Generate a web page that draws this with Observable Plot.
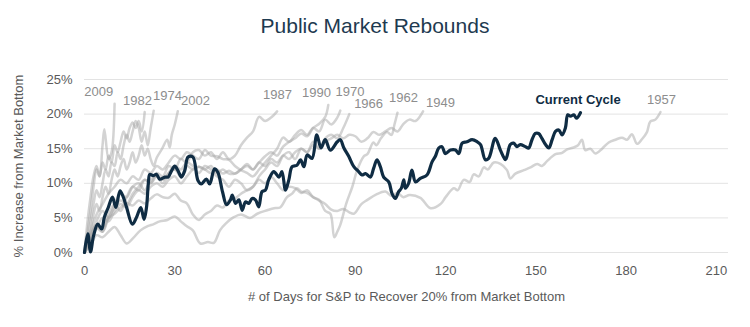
<!DOCTYPE html>
<html>
<head>
<meta charset="utf-8">
<script src="https://cdn.jsdelivr.net/npm/d3@7"></script>
<script src="https://cdn.jsdelivr.net/npm/@observablehq/plot@0.6"></script>
<style>
  html, body { margin: 0; padding: 0; background: #ffffff; }
  #title { width: 750px; height: 48px; box-sizing: border-box; padding-top: 15px;
           text-align: center; font-family: "Liberation Sans", Arial, sans-serif;
           font-size: 21px; line-height: 21px; color: #1e3a50; }
  #chart svg { display: block; }
</style>
</head>
<body>
<div id="title">Public Market Rebounds</div>
<div id="chart"></div>
<script>
// ---- Data (day, % increase from market bottom) ----
const xTicks = [0, 30, 60, 90, 120, 150, 180, 210];
const yTicks = [0, 5, 10, 15, 20, 25];

const cycle2009 = [[0,0],[1,4.5],[2,8],[3,11],[4,12.5],[5,11],[6,15.5],[6.6,17.8],[8,13.5],[9,14.5],[10,21.5]];
const cycle1982 = [[0,0],[1,3],[2,6],[3,9.5],[4,12],[5,11],[6,13],[7,12],[8,14],[9,13],[10,15.5],[11,14.5],[12,16],[13,17.5],[14,16.5],[15,18],[16,18.8],[17,18],[18,19],[19,17.5],[20,20.3]];
const cycle1974 = [[0,0],[1,2],[2,4.5],[3,7],[4,9],[5,8],[6,10],[7,12],[8,11],[9,13],[10,12.5],[11,14.5],[12,13.5],[13,15.5],[14,17],[15,16],[16,17.5],[17,19],[18,18],[19,16],[20,17.5],[21,15.5],[22,18],[23,20.5]];
const cycle2002 = [[0,0],[1,1.5],[2,3],[3,5.5],[4,7],[5,6],[6,8],[7,9.5],[8,8.5],[9,10.5],[10,12],[11,11],[12,12.5],[13,13.5],[14,12],[15,13],[16,14.5],[17,13],[18,14],[19,15.5],[20,14],[21,15],[22,13.5],[23,12.5],[24,13.7],[25.8,15],[27.5,16.3],[28.3,15.2],[29,17],[30,18.5],[31,20.4]];
const cycle1987 = [[0,0],[2,2.5],[4,4],[6,3],[8,5.5],[10,7],[12,6],[14,8],[16,9.5],[18,9],[20,10.5],[22,10],[24,11.5],[26,11],[28,12.5],[30,12],[32,13.5],[34,13],[36,14.5],[38,14.8],[40,14],[42,14.5],[44,13.5],[46,14.5],[48,13.5],[50,14],[52,15.5],[54,16.6],[56,17.5],[58,19.6],[60,19],[62,19.5],[64,20.4]];
const cycle1990 = [[0,0],[2,1.5],[4,3.5],[6,3],[8,5],[10,6.5],[12,7.5],[14,7],[16,8.5],[18,9.5],[20,10.5],[22,10],[24,11],[26,10.5],[28,11.5],[30,12],[32,11],[34,12.5],[36,12],[38,12.4],[40,12],[42,11.5],[44,12],[46,11.4],[48,11.8],[50,11.4],[52,12],[54,12.5],[56,12],[58,13],[60,13.9],[62,14.5],[64,14],[66,15.3],[68,16],[70,16.5],[72,17.2],[74,16.8],[76,18],[78,18.6],[80,19.6],[81,21.3]];
const cycle1970 = [[0,0],[2,3],[4,5.5],[6,7],[8,8.5],[10,9.5],[12,10.5],[14,10],[16,11],[18,10.5],[20,12],[22,11.5],[24,12.5],[26,12],[28,13],[30,14],[32,13.5],[34,14.5],[36,14],[38,13.5],[40,14.8],[42,14],[44,13.9],[46,13.5],[48,13.4],[50,12.5],[52,11.9],[54,11.5],[56,11],[58,12],[60,13],[62,14],[64,15],[66,16.6],[68,16],[70,17],[72,17.7],[74,17],[76,18],[78,17.5],[80,19.2],[82,18.5],[84,19.5],[85,20.5]];
const cycle1966 = [[0,0],[2,2],[4,4.5],[6,6],[8,5],[10,7],[12,8.5],[14,8],[16,9.5],[18,10],[20,9],[22,10.5],[24,11],[26,10],[28,11.5],[30,12.5],[32,12],[34,13],[36,12.5],[38,11.5],[40,12.5],[42,12],[44,11],[46,10.5],[48,9.5],[50,10.5],[52,10],[54,9],[56,9.5],[58,11],[60,12],[62,13],[64,12.5],[66,14],[68,14.5],[70,13.5],[72,15],[74,14.5],[76,16],[78,15],[80,16.5],[82,17],[84,16.5],[86,18],[88,20]];
const cycle1962 = [[0,0],[2,2.5],[4,4],[6,3.5],[8,5],[10,5.6],[12,6.5],[14,7.1],[16,6.8],[18,7.5],[20,7.1],[22,7.8],[24,8.4],[26,8],[28,7.9],[30,8.5],[32,7.5],[34,7.1],[36,5.5],[38,4.7],[40,5.5],[42,6],[44,6.8],[46,6.5],[48,7.5],[50,7.8],[52,8.5],[54,9],[56,9.5],[58,10.5],[60,10],[62,10.9],[64,10],[66,9],[68,9.5],[70,9.3],[72,8.6],[74,9],[76,8],[78,7.6],[80,6],[81.7,5.6],[83,2.2],[84,3],[85,4],[87,7.1],[89,9.5],[90.6,11.9],[92.8,13.9],[94,14.2],[96,15.9],[97,15.5],[98.5,16.5],[100.5,17.4],[102,17],[103,18.5],[104,20.2]];
const cycle1949 = [[0,0],[2,2],[4,3.5],[6,5],[8,4.5],[10,6],[12,7],[14,6.5],[16,8],[18,9],[20,8.5],[22,9.5],[24,10],[26,9.5],[28,10.5],[30,11],[32,10],[34,11],[36,12],[38,12.4],[40,12],[42,12.5],[44,11.5],[46,12],[48,11.4],[50,11.4],[52,12],[54,12.8],[56,12],[58,13],[60,12.5],[62,13.5],[64,13],[66,14],[68,13.5],[70,14.5],[72,15],[74,14.5],[76,15.5],[78,15],[80,16],[82,16.5],[84,17],[86,16.5],[88,17],[90,16.8],[92,16],[94,16.5],[96,17.4],[98,17],[100,17.5],[102,18],[104,17.5],[106,18.6],[108,19.2],[110,19],[112.5,20.4]];
const cycle1957 = [[0,0],[2,1],[4,2.5],[6,2.2],[8,3],[10,3.7],[12,2.5],[14,1.3],[16,2],[18.6,3.2],[21,3.8],[23,4.1],[25,4.5],[27.5,4.7],[30,5.2],[32,4.5],[34,3.8],[36,3.2],[38.5,1.3],[41,1.5],[43,1.4],[45,3.2],[47,4.2],[49.6,5.1],[52,5.5],[55,5],[57.4,5.6],[60.7,6.1],[63,6.4],[65,6.5],[67.3,8],[69,8.5],[70.6,9.3],[72,8.8],[74,8.6],[76,8],[78,7.5],[80,7],[82,6.2],[84,6],[86,6.3],[88,5.8],[89.5,5.6],[92,7],[94,7.6],[97,8.4],[100,8.8],[102,8.2],[104,8.6],[106,8],[108,8.3],[111.6,7.9],[115,6.4],[118.3,7],[120,8],[122.7,9.3],[124,9],[126,10.5],[128,10.2],[129.3,11.3],[131,11],[132.7,12.3],[134,12],[136,13],[138.2,12.8],[140.4,11.9],[141.5,10.7],[143.2,11.4],[146,11.9],[148.2,12.3],[150.4,12.8],[152,12.5],[153.7,13.2],[156.5,14.2],[158.7,14.4],[160.4,14.9],[162.6,15.2],[164,15.5],[165.3,16.3],[166.4,14.8],[168.1,15],[169.8,14.3],[172,15],[174.2,15.9],[176.4,16.3],[178.6,16.6],[180.3,16.3],[181.9,17.1],[183.6,15.7],[185.3,16.4],[186.9,17.4],[188,18.9],[189.7,19.2],[191.4,20.3]];

const currentCycle = [[0,0],[1.1,2.7],[2,0.1],[3,2.4],[4.4,4.1],[5.7,3.4],[6.6,5.1],[7.9,6.5],[9.3,8.0],[10.4,6.5],[11.8,8.9],[12.9,8.0],[14,6.5],[15.9,4.1],[17.3,5.1],[18.7,6.5],[19.8,4.8],[20.6,6.5],[21.2,9.9],[21.7,11.3],[22.8,11.1],[23.9,11.3],[25,10.6],[26.7,10.9],[27.8,10.9],[28.9,11.8],[30,12.5],[31.1,11.8],[32.2,10.9],[33.3,11.8],[34.4,13.8],[36,13.8],[37.7,10.4],[38.8,9.9],[40.5,10.6],[41.6,9.9],[43.2,12.1],[44.3,11.6],[45.9,8.7],[47.2,6.9],[48.5,7.6],[49.1,8.3],[50.2,7.1],[51.3,7.6],[52.4,6.1],[53.5,7.3],[54.6,7.1],[55.7,7.8],[56.8,7.6],[57.9,6.6],[59,8.8],[60.1,9.0],[61.2,10.5],[62.9,11.7],[64.6,10.9],[65.6,11.7],[66.8,9.0],[67.9,10.5],[69,12.4],[70.6,12.6],[71.8,13.4],[72.9,12.4],[74,14.1],[75.6,13.6],[77.2,17.0],[78.6,15.1],[80,16.3],[81.7,14.8],[84,16.0],[85,16.3],[86.2,15.1],[87.8,13.9],[89.5,12.4],[91.1,11.7],[92.2,11.2],[93.4,11.4],[95,10.9],[96.1,12.2],[97.2,13.4],[98.3,12.4],[99.4,10.9],[101.1,10.2],[102.2,8.5],[103.3,7.8],[104.4,8.8],[105.3,9.3],[106.1,10.5],[106.6,9.3],[107.7,10.0],[108.8,11.9],[110,10.2],[111.6,10.7],[113.8,11.2],[115.5,13.1],[116.6,13.9],[117.7,15.1],[118.8,15.3],[119.9,14.3],[121.6,14.8],[123.3,14.8],[124.4,14.3],[125.5,15.8],[127.1,16.0],[128.8,16.3],[130.5,16.0],[131.6,15.6],[133.2,13.4],[134.3,13.6],[136.5,16.5],[138.2,14.8],[139.9,13.4],[140.4,13.9],[141.5,15.6],[142.6,15.8],[143.7,15.3],[144.8,15.6],[146.5,15.3],[147.6,15.1],[148.7,16.3],[149.8,17.2],[150.9,17.2],[152,16.5],[153.2,15.6],[154.3,15.1],[155.4,16.3],[156.5,17.5],[157.6,17.7],[158.7,17.0],[159.8,18.0],[160.6,19.9],[161.5,19.7],[162.6,19.9],[163.5,19.4],[164.8,20.2]];

const historicNames = ["2009","1982","1974","2002","1987","1990","1970","1966","1962","1949","1957"];
const historicSeries = [cycle2009, cycle1982, cycle1974, cycle2002, cycle1987, cycle1990, cycle1970, cycle1966, cycle1962, cycle1949, cycle1957];

// label anchors (in data units: day, %)
const labelNames = ["2009","1982","1974","2002","1987","1990","1970","1966","1962","1949","1957"];
const labelDays  = [4.7, 17.6, 27.6, 36.9, 64.1, 77.1, 88.2, 94.4, 106, 118.3, 191.7];
const labelPcts  = [23.2, 21.9, 22.6, 21.9, 22.8, 23.1, 23.2, 21.5, 22.3, 21.6, 22.1];
const currentLabel = "Current Cycle";
const currentLabelDay = 164;
const currentLabelPct = 22.1;

const xTitle = "# of Days for S&P to Recover 20% from Market Bottom";
const yTitle = "% Increase from Market Bottom";

// ---- Build tables ----
const grayRows = historicSeries.flatMap((s, i) => s.map(([day, pct]) => ({year: historicNames[i], day, pct})));
const currentRows = currentCycle.map(([day, pct]) => ({day, pct}));
const labelRows = labelNames.map((name, i) => ({name, day: labelDays[i], pct: labelPcts[i]}));

const font = "'Liberation Sans', Arial, sans-serif";

const chart = Plot.plot({
  width: 750,
  height: 279,
  marginTop: 31,
  marginBottom: 75,
  marginLeft: 84,
  marginRight: 22,
  style: {fontFamily: font, fontSize: "13px", background: "#ffffff", overflow: "visible"},
  x: {domain: [0, 214]},
  y: {domain: [0, 25]},
  marks: [
    Plot.gridY(yTicks, {stroke: "#e3e3e3", strokeOpacity: 1, strokeWidth: 1}),
    Plot.axisX(xTicks, {tickSize: 0, tickPadding: 13, fill: "#5a5a5a", fontSize: 13, label: null}),
    Plot.axisY(yTicks, {tickSize: 0, tickPadding: 12, fill: "#5a5a5a", fontSize: 13, tickFormat: d => d + "%", label: null}),
    Plot.line(grayRows, {x: "day", y: "pct", z: "year", stroke: "#a8a8a8", strokeOpacity: 0.5, strokeWidth: 2.5, curve: "catmull-rom"}),
    Plot.line(currentRows, {x: "day", y: "pct", stroke: "#0f2c43", strokeWidth: 3.2, curve: "catmull-rom", strokeLinejoin: "round"}),
    Plot.text(labelRows, {x: "day", y: "pct", text: "name", fill: "#8d8d8d", fontSize: 13}),
    Plot.text([currentLabel], {x: () => currentLabelDay, y: () => currentLabelPct, text: d => d, fill: "#0f2c43", fontWeight: "bold", fontSize: 13}),
    Plot.text([xTitle], {frameAnchor: "bottom", textAnchor: "middle", dy: 48, text: d => d, fill: "#5a5a5a", fontSize: 13}),
    Plot.text([yTitle], {frameAnchor: "left", textAnchor: "middle", dx: -66, rotate: -90, text: d => d, fill: "#5a5a5a", fontSize: 13})
  ]
});
document.getElementById("chart").appendChild(chart);
</script>
</body>
</html>
